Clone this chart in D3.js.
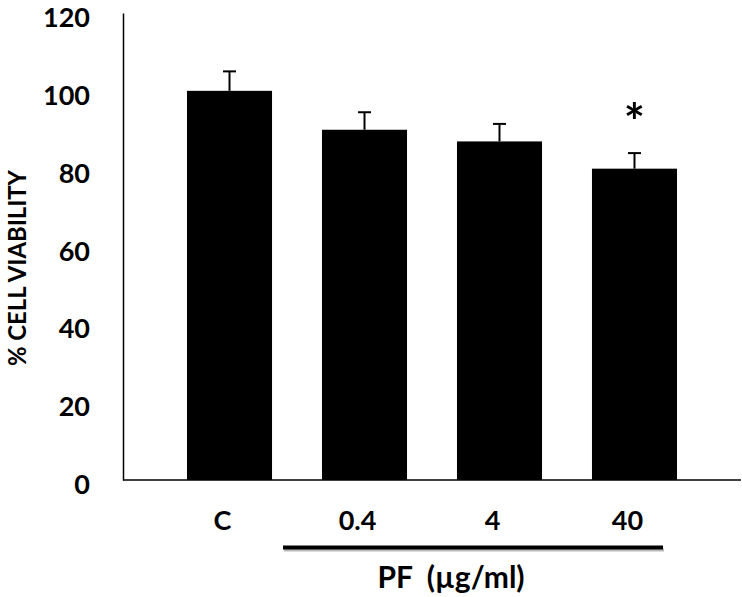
<!DOCTYPE html>
<html>
<head>
<meta charset="utf-8">
<script src="https://cdn.jsdelivr.net/npm/d3@7/dist/d3.min.js"></script>
<style>
  html, body { margin: 0; padding: 0; background: #fff; }
  svg { display: block; }
  text { font-family: Lato, "Open Sans", sans-serif; font-weight: 700; fill: #000; }
</style>
</head>
<body>
<script>
const categories = ["C", "0.4", "4", "40"];
const values = [100, 90, 87, 80];
const errors = [5, 4.5, 4.5, 4];
const significant = [false, false, false, true];
const yTicks = [0, 20, 40, 60, 80, 100, 120];
const yTitle = "% CELL VIABILITY";
const groupLabel = "PF  (µg/ml)";
const groupedCats = ["0.4", "4", "40"];

const W = 742, H = 597;
const svg = d3.select("body").append("svg").attr("width", W).attr("height", H);

const x = d3.scaleBand().domain(categories).range([123, 741]).paddingInner(0.37).paddingOuter(0.474);
const y = d3.scaleLinear().domain([0, 120]).range([480, 13]);

// bars
svg.selectAll("rect.bar").data(values).enter().append("rect")
  .attr("class", "bar")
  .attr("x", (d, i) => x(categories[i]))
  .attr("y", d => y(d))
  .attr("width", x.bandwidth())
  .attr("height", d => y(0) - y(d))
  .attr("fill", "#000");

// error bars (upper only)
const eb = svg.append("g");
values.forEach((v, i) => {
  const cx = x(categories[i]) + x.bandwidth() / 2;
  eb.append("line").attr("x1", cx).attr("x2", cx).attr("y1", y(v)).attr("y2", y(v + errors[i]))
    .attr("stroke", "#000").attr("stroke-width", 2);
  eb.append("line").attr("x1", cx - 6.5).attr("x2", cx + 6.5).attr("y1", y(v + errors[i])).attr("y2", y(v + errors[i]))
    .attr("stroke", "#000").attr("stroke-width", 2);
  if (significant[i]) {
    svg.append("text").attr("x", cx).attr("y", y(v + errors[i]) - 13)
      .attr("text-anchor", "middle").attr("font-size", 50).text("*");
  }
});

// y axis
const yAxis = d3.axisLeft(y).tickValues(yTicks).tickSize(0).tickPadding(33);
const gy = svg.append("g").attr("transform", "translate(123,0)").call(yAxis);
gy.select(".domain").attr("stroke", "#000").attr("stroke-width", 1.5);
gy.selectAll("text").attr("font-size", 27).attr("font-family", "Lato, sans-serif").attr("font-weight", 700).attr("dy", "0.5em");

// x axis
const xAxis = d3.axisBottom(x).tickSize(0).tickPadding(31);
const gx = svg.append("g").attr("transform", "translate(0,480)").call(xAxis);
gx.select(".domain").attr("stroke", "#000").attr("stroke-width", 1.5).attr("d", "M123,0H741");
gx.selectAll("text").attr("font-size", 27).attr("font-family", "Lato, sans-serif").attr("font-weight", 700)
  .attr("dx", -7).attr("dy", "0.71em");

// group bracket line
const x0 = x(groupedCats[0]) - 39, x1 = x(groupedCats[groupedCats.length - 1]) + x.bandwidth() - 14;
svg.append("line").attr("x1", x0 + 1).attr("x2", x1 + 1).attr("y1", 550).attr("y2", 550)
  .attr("stroke", "#bbb").attr("stroke-width", 3);
svg.append("line").attr("x1", x0).attr("x2", x1).attr("y1", 547.5).attr("y2", 547.5)
  .attr("stroke", "#000").attr("stroke-width", 4);

svg.append("text").attr("x", 451).attr("y", 588).attr("text-anchor", "middle")
  .attr("font-size", 30).style("white-space", "pre").text(groupLabel);

// y title
svg.append("text").attr("transform", "translate(26,268) rotate(-90)")
  .attr("text-anchor", "middle").attr("font-size", 25.5)
  .attr("textLength", 196).attr("lengthAdjust", "spacingAndGlyphs").text(yTitle);
</script>
</body>
</html>
